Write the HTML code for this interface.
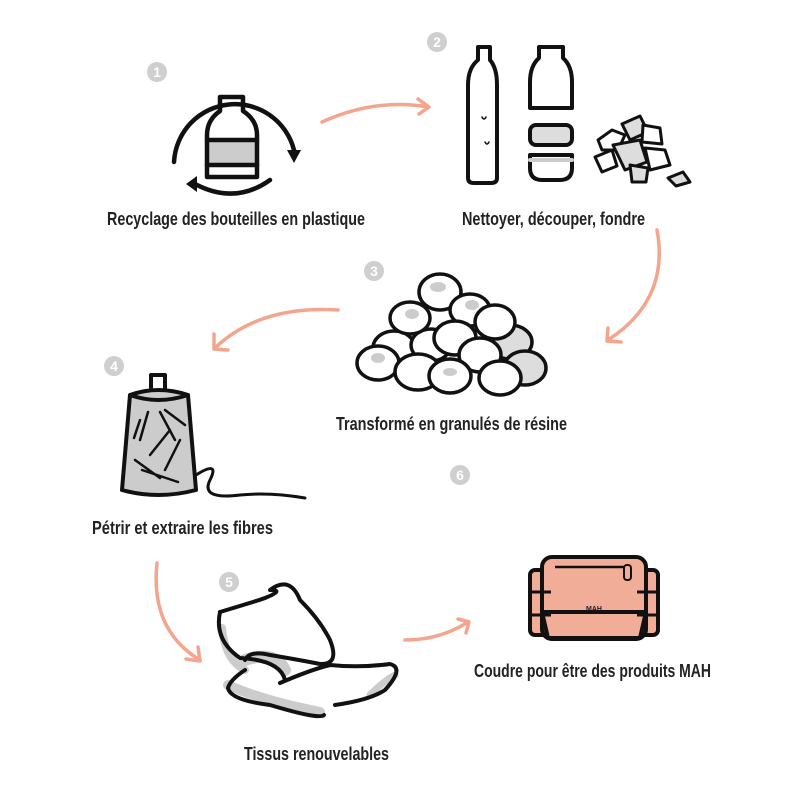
<!DOCTYPE html>
<html><head><meta charset="utf-8"><style>
html,body{margin:0;padding:0;background:#fff;width:800px;height:800px;overflow:hidden}
svg{display:block}
text{font-family:"Liberation Sans Narrow","Liberation Sans",sans-serif;font-weight:bold;fill:#222;font-size:18px}
.n{fill:#fff;font-size:14px;font-family:"Liberation Sans",sans-serif;text-anchor:middle}
</style></head><body>
<svg width="800" height="800" viewBox="0 0 800 800" xmlns="http://www.w3.org/2000/svg">
<g fill="#cfcfcf">
<circle cx="157" cy="72" r="10"/><circle cx="437" cy="42" r="10"/><circle cx="374" cy="271" r="10"/>
<circle cx="114" cy="366" r="10"/><circle cx="229" cy="582" r="10"/><circle cx="460" cy="475" r="10"/>
</g>
<text class="n" x="157" y="77">1</text><text class="n" x="437" y="47">2</text><text class="n" x="374" y="276">3</text>
<text class="n" x="114" y="371">4</text><text class="n" x="229" y="587">5</text><text class="n" x="460" y="480">6</text>

<g fill="none" stroke="#f3a58e" stroke-width="3.5" stroke-linecap="round" stroke-linejoin="round">
<path d="M322 122 Q375 98 428 107"/><path d="M418 99 L429 107 L419 114"/>
<path d="M657 230 Q670 300 608 340"/><path d="M608 328 L607 341 L621 342"/>
<path d="M338 310 Q260 305 215 348"/><path d="M214 334 L214 349 L228 350"/>
<path d="M157 563 Q150 630 200 660"/><path d="M186 659 L200 661 L198 647"/>
<path d="M405 640 Q440 640 468 622"/><path d="M458 619 L469 622 L466 633"/>
</g>

<g fill="none" stroke="#111" stroke-width="4.5" stroke-linecap="round" stroke-linejoin="round">
<!-- icon1 -->
<path d="M174 162 A61 61 0 0 1 294 150"/>
<path d="M270 180 Q235 205 195 184"/>
<rect x="208" y="140" width="48" height="25" fill="#ccc" stroke="none"/>
<path d="M220 111 L220 97 L243 97 L243 111 Q257 120 257 135 L257 177 L207 177 L207 135 Q207 120 220 111 Z"/>
<path d="M207 140 L257 140 M207 165 L257 165"/>
</g>
<path d="M287 150 L301 150 L294 163 Z" fill="#111"/>
<path d="M197 176 L197 192 L186 184 Z" fill="#111"/>

<g fill="none" stroke="#111" stroke-width="4" stroke-linecap="round" stroke-linejoin="round">
<!-- icon2 bottles -->
<path d="M478 47 L478 60 Q468 68 468 85 L468 178 Q468 183 474 183 L491 183 Q497 183 497 178 L497 85 Q497 68 490 60 L490 47 Z"/>
<path d="M539 47 L539 58 Q530 66 530 82 L530 108 L572 108 L572 82 Q572 66 563 58 L563 47 Z"/>
<rect x="530" y="125" width="42" height="20" rx="6" fill="#ddd"/>
<path d="M530 155 L572 155 L572 168 Q572 180 560 180 L542 180 Q530 180 530 168 Z"/>
<path d="M530 160 L572 160" stroke="#ccc"/>
<path d="M482 117 q2 4 4 0 M485 142 q2 4 4 0" stroke-width="1.5"/>
<!-- flakes -->
<g stroke-width="3" fill="#fff">
<path d="M598 140 L612 130 L625 135 L618 150 L602 150 Z"/>
<path d="M622 124 L640 116 L648 132 L630 140 Z" fill="#ddd"/>
<path d="M643 125 L660 128 L662 144 L642 142 Z"/>
<path d="M595 157 L612 150 L617 166 L602 172 Z"/>
<path d="M613 145 L640 140 L647 162 L625 170 Z" fill="#ddd"/>
<path d="M645 148 L665 150 L670 165 L650 170 Z"/>
<path d="M630 165 L648 168 L646 182 L632 182 Z" fill="#ddd"/>
<path d="M668 178 L683 172 L690 182 L676 186 Z" fill="#ddd"/>
</g>
</g>

<!-- pellets -->
<g stroke="#111" stroke-width="3.5" fill="#fff">
<ellipse cx="510" cy="342" rx="22" ry="17" fill="#ddd"/>
<ellipse cx="394" cy="348" rx="21" ry="17"/><ellipse cx="431" cy="345" rx="20" ry="16"/>
<ellipse cx="440" cy="292" rx="21" ry="18"/>
<ellipse cx="410" cy="318" rx="20" ry="16"/><ellipse cx="470" cy="310" rx="20" ry="16"/>
<ellipse cx="455" cy="338" rx="21" ry="17"/><ellipse cx="495" cy="322" rx="20" ry="17"/>
<ellipse cx="378" cy="363" rx="21" ry="17"/><ellipse cx="418" cy="372" rx="23" ry="18"/>
<ellipse cx="480" cy="355" rx="21" ry="17"/><ellipse cx="525" cy="368" rx="21" ry="17" fill="#ddd"/>
<ellipse cx="450" cy="376" rx="21" ry="17"/><ellipse cx="500" cy="378" rx="21" ry="17"/>
</g>
<g fill="#ccc"><ellipse cx="438" cy="287" rx="8" ry="5"/><ellipse cx="378" cy="358" rx="7" ry="5"/><ellipse cx="450" cy="372" rx="7" ry="4"/><ellipse cx="472" cy="305" rx="7" ry="5"/><ellipse cx="412" cy="314" rx="7" ry="5"/></g>

<!-- spool -->
<g stroke="#111" stroke-width="4" stroke-linecap="round" stroke-linejoin="round">
<rect x="151" y="375" width="14" height="17" fill="#fff"/>
<path d="M130 395 Q158 385 188 395 L196 490 Q158 500 122 490 Z" fill="#ccc"/>
<path d="M130 395 Q158 405 188 395" fill="none"/>
<path d="M196 475 Q220 460 210 480 Q200 500 240 495 Q270 492 305 498" fill="none" stroke-width="3"/>
<g stroke-width="2.5" fill="none"><path d="M140 420 L134 438 M148 412 L140 440 M160 412 L175 440 M165 410 L185 425 M170 430 L150 455 M180 440 L165 470 M135 460 L160 478 M142 470 L178 482"/></g>
</g>

<!-- fabric -->
<g stroke="#111" stroke-width="4" fill="none" stroke-linecap="round" stroke-linejoin="round">
<path d="M222 628 Q225 660 245 670" stroke="#ccc" stroke-width="8"/>
<path d="M245 660 Q275 650 285 670" stroke="#ccc" stroke-width="12"/>
<path d="M228 685 Q260 700 320 712" stroke="#ccc" stroke-width="10"/>
<path d="M370 695 Q385 680 395 675" stroke="#ccc" stroke-width="7"/>
<path d="M220 612 Q260 600 265 598 Q285 590 270 590 Q290 575 300 600 Q320 620 330 640 Q340 665 320 664 Q300 660 270 655 Q250 650 245 660"/>
<path d="M220 612 Q214 640 240 658 Q280 660 285 680"/>
<path d="M245 670 Q230 680 228 688 Q230 700 270 705 Q320 720 324 715"/>
<path d="M280 683 Q310 670 330 665 Q360 668 390 664 Q405 668 385 690 Q370 700 335 705"/>
</g>

<!-- bag -->
<g stroke="#111" stroke-width="4" stroke-linejoin="round">
<rect x="530" y="570" width="22" height="65" rx="5" fill="#f2ad98"/>
<rect x="636" y="570" width="22" height="65" rx="5" fill="#f2ad98"/>
<rect x="542" y="557" width="104" height="82" rx="10" fill="#f2ad98"/>
<path d="M542 612 L646 612 L640 638 L548 638 Z" fill="#f2ad98"/>
<path d="M555 567 L630 567" stroke-width="2.5"/>
<rect x="624" y="565" width="7" height="15" rx="3" fill="#f2ad98" stroke-width="2"/>
<path d="M531 592 L551 592 M531 615 L551 615 M637 592 L657 592 M637 615 L657 615" stroke-width="3"/>
</g>
<text x="594" y="611" style="font-size:7px;text-anchor:middle">MAH</text>

<text x="107" y="225" textLength="258" lengthAdjust="spacingAndGlyphs">Recyclage des bouteilles en plastique</text>
<text x="462" y="225" textLength="183" lengthAdjust="spacingAndGlyphs">Nettoyer, découper, fondre</text>
<text x="336" y="430" textLength="231" lengthAdjust="spacingAndGlyphs">Transformé en granulés de résine</text>
<text x="92" y="534" textLength="181" lengthAdjust="spacingAndGlyphs">Pétrir et extraire les fibres</text>
<text x="474" y="677" textLength="237" lengthAdjust="spacingAndGlyphs">Coudre pour être des produits MAH</text>
<text x="244" y="760" textLength="145" lengthAdjust="spacingAndGlyphs">Tissus renouvelables</text>
</svg>
</body></html>
